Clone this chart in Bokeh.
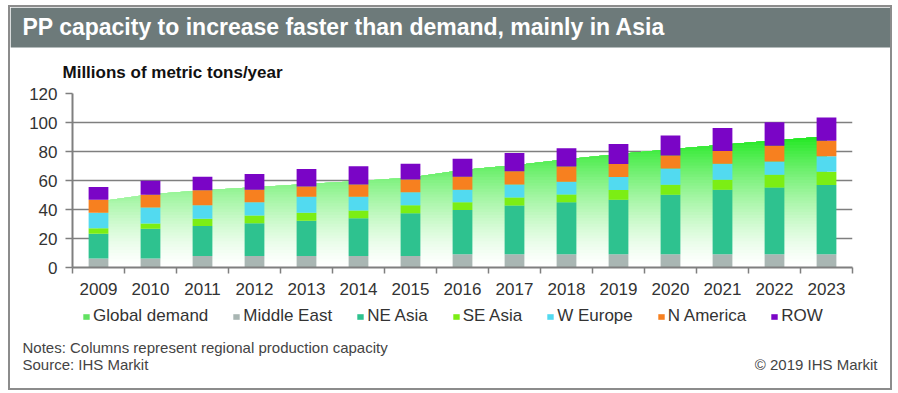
from bokeh.plotting import figure
from bokeh.layouts import column
from bokeh.models import (FixedTicker, Legend, LegendItem, Label, BoxAnnotation,
                          ColumnDataSource, Range1d)
from bokeh.embed import file_html
from bokeh.resources import INLINE

# ---------------- data ----------------
years = ["2009", "2010", "2011", "2012", "2013", "2014", "2015", "2016",
         "2017", "2018", "2019", "2020", "2021", "2022", "2023"]
middle_east = [6.2, 6.2, 7.9, 7.9, 7.9, 7.9, 7.9, 9.2, 9.2, 9.2, 9.2, 9.2, 9.2, 9.2, 9.2]
ne_asia = [17.1, 20.6, 20.8, 22.6, 24.4, 26.0, 29.5, 30.5, 33.5, 35.8, 37.5, 40.9, 44.4, 46.0, 47.7]
se_asia = [3.7, 3.5, 5.0, 5.3, 5.4, 5.4, 5.5, 5.3, 5.6, 5.3, 6.7, 7.0, 7.0, 8.8, 9.1]
w_europe = [10.7, 11.0, 9.2, 9.2, 11.1, 9.5, 9.0, 8.7, 9.0, 8.8, 9.0, 11.1, 11.0, 9.1, 10.8]
n_america = [9.0, 8.8, 10.4, 8.6, 7.1, 8.5, 8.8, 8.9, 9.0, 10.6, 9.0, 9.0, 8.8, 10.9, 10.6]
row = [8.9, 9.7, 9.3, 10.8, 12.0, 12.5, 10.8, 12.4, 12.7, 12.6, 13.8, 13.8, 15.8, 16.1, 16.0]
global_demand = [45.5, 50.5, 53.2, 55.3, 57.6, 59.7, 62.0, 67.3, 70.6, 74.7, 78.2, 81.6, 84.6, 87.6, 90.5]
y_ticks = [0, 20, 40, 60, 80, 100, 120]

series_names = ["Middle East", "NE Asia", "SE Asia", "W Europe", "N America", "ROW"]
series_keys = ["middle_east", "ne_asia", "se_asia", "w_europe", "n_america", "row"]
series_colors = ["#a9b6b3", "#2ec28f", "#7cee14", "#52daf0", "#f7801f", "#7a05c6"]
demand_legend_color = "#62e262"

FONT = "Liberation Sans"
TXT = "#333333"
NOTE = "#444444"
GRID = "#7f7f7f"
W = 880


def blank_figure(height):
    f = figure(width=W, height=height, output_backend="svg", toolbar_location=None,
               title=None, x_axis_location=None, y_axis_location=None,
               x_range=Range1d(0, 1), y_range=Range1d(0, 1),
               min_border=0, min_border_left=0, min_border_right=0,
               min_border_top=0, min_border_bottom=0, frame_align=False,
               outline_line_color=None, background_fill_color="white",
               border_fill_color="white")
    f.xgrid.visible = False
    f.ygrid.visible = False
    return f


# ================= header: title bar + unit label =================
H_TOP = 78
top_fig = blank_figure(H_TOP)
top_fig.add_layout(BoxAnnotation(left=0, right=W, top=H_TOP, bottom=H_TOP - 40,
                                 left_units="screen", right_units="screen",
                                 top_units="screen", bottom_units="screen",
                                 fill_color="#6d7a7a", fill_alpha=1, line_color=None))
top_fig.add_layout(Label(x=12, y=H_TOP - 19, x_units="screen", y_units="screen",
                         text="PP capacity to increase faster than demand, mainly in Asia",
                         text_font=FONT, text_font_style="bold", text_font_size="23px",
                         text_color="white", text_baseline="middle", text_align="left"))
top_fig.add_layout(Label(x=52, y=H_TOP - 65, x_units="screen", y_units="screen",
                         text="Millions of metric tons/year",
                         text_font=FONT, text_font_style="bold", text_font_size="17px",
                         text_color="#111111", text_baseline="middle", text_align="left"))

# ================= main chart =================
x = list(range(len(years)))
p = figure(width=W, height=215, output_backend="svg", toolbar_location=None, title=None,
           x_range=Range1d(-0.5, len(years) - 0.5), y_range=Range1d(0, 120),
           min_border_left=62, min_border_right=38, min_border_top=8, min_border_bottom=33,
           frame_align=False,
           outline_line_color=None, background_fill_color="white",
           border_fill_color="white")

xa = p.xaxis[0]
xa.ticker = FixedTicker(ticks=x, minor_ticks=[i - 0.5 for i in range(len(years) + 1)])
xa.major_label_overrides = {i: yr for i, yr in enumerate(years)}
xa.major_tick_out = 0
xa.major_tick_in = 0
xa.major_tick_line_color = None
xa.minor_tick_out = 6
xa.minor_tick_in = 0
xa.minor_tick_line_color = GRID
xa.minor_tick_line_width = 1.5
xa.axis_line_color = GRID
xa.axis_line_width = 2
xa.major_label_text_font = FONT
xa.major_label_text_font_size = "17px"
xa.major_label_text_color = TXT
xa.major_label_standoff = 9

ya = p.yaxis[0]
ya.ticker = FixedTicker(ticks=y_ticks)
ya.major_tick_out = 7
ya.major_tick_in = 0
ya.major_tick_line_color = GRID
ya.major_tick_line_width = 1.5
ya.minor_tick_line_color = None
ya.axis_line_color = GRID
ya.axis_line_width = 2
ya.major_label_text_font = FONT
ya.major_label_text_font_size = "17px"
ya.major_label_text_color = TXT
ya.major_label_standoff = 8

p.xgrid.visible = False
p.ygrid.grid_line_color = GRID
p.ygrid.grid_line_width = 1.5


# demand area with a vertical white -> green gradient (stacked bands)
def mix(t, c0=(255, 255, 255), c1=(34, 232, 34)):
    return "#%02x%02x%02x" % tuple(int(round(a + (b - a) * t)) for a, b in zip(c0, c1))


n_bands = 45
top = max(global_demand)
for k in range(n_bands):
    lo = top * k / n_bands
    y1 = [min(d, lo) for d in global_demand]
    t = ((k + 0.5) / n_bands) ** 1.4
    p.varea(x=x, y1=y1, y2=global_demand, fill_color=mix(t))

# stacked capacity bars
source = ColumnDataSource(dict(x=x, middle_east=middle_east, ne_asia=ne_asia,
                               se_asia=se_asia, w_europe=w_europe,
                               n_america=n_america, row=row))
p.vbar_stack(series_keys, x="x", width=0.38, fill_color=series_colors,
             line_color=None, source=source)

# ================= footer: legend + notes =================
H_FOOT = 88
foot = blank_figure(H_FOOT)
# hidden proxies (same data, not shown) that only supply the legend swatches
foot_source = ColumnDataSource(dict(x=x, demand=global_demand, middle_east=middle_east,
                                    ne_asia=ne_asia, se_asia=se_asia, w_europe=w_europe,
                                    n_america=n_america, row=row))
items = []
r = foot.vbar(x="x", top="demand", width=0.38, fill_color=demand_legend_color,
              line_color=None, source=foot_source, visible=False)
items.append(LegendItem(label="Global demand", renderers=[r]))
for name, key, c in zip(series_names, series_keys, series_colors):
    r = foot.vbar(x="x", top=key, width=0.38, fill_color=c, line_color=None,
                  source=foot_source, visible=False)
    items.append(LegendItem(label=name, renderers=[r]))
legend = Legend(items=items, orientation="horizontal", location=(72, H_FOOT - 26),
                glyph_width=8, glyph_height=7, label_standoff=3, spacing=24,
                padding=0, margin=0, border_line_color=None, background_fill_alpha=0,
                inactive_fill_alpha=0,
                label_text_font=FONT, label_text_font_size="17px",
                label_text_color=TXT)
foot.add_layout(legend, "center")

foot.add_layout(Label(x=12, y=H_FOOT - 47, x_units="screen", y_units="screen",
                      text="Notes: Columns represent regional production capacity",
                      text_font=FONT, text_font_size="15px",
                      text_color=NOTE, text_baseline="middle", text_align="left"))
foot.add_layout(Label(x=12, y=H_FOOT - 64, x_units="screen", y_units="screen",
                      text="Source: IHS Markit",
                      text_font=FONT, text_font_size="15px",
                      text_color=NOTE, text_baseline="middle", text_align="left"))
foot.add_layout(Label(x=867, y=H_FOOT - 64, x_units="screen", y_units="screen",
                      text="\u00a9 2019 IHS Markit",
                      text_font=FONT, text_font_size="15px",
                      text_color=NOTE, text_baseline="middle", text_align="right"))

layout = column(top_fig, p, foot, spacing=0,
                styles={"border": "2px solid #8c8c8c", "margin": "5px 6px 3px 8px"})

open("out.html", "w").write(file_html(layout, INLINE))
